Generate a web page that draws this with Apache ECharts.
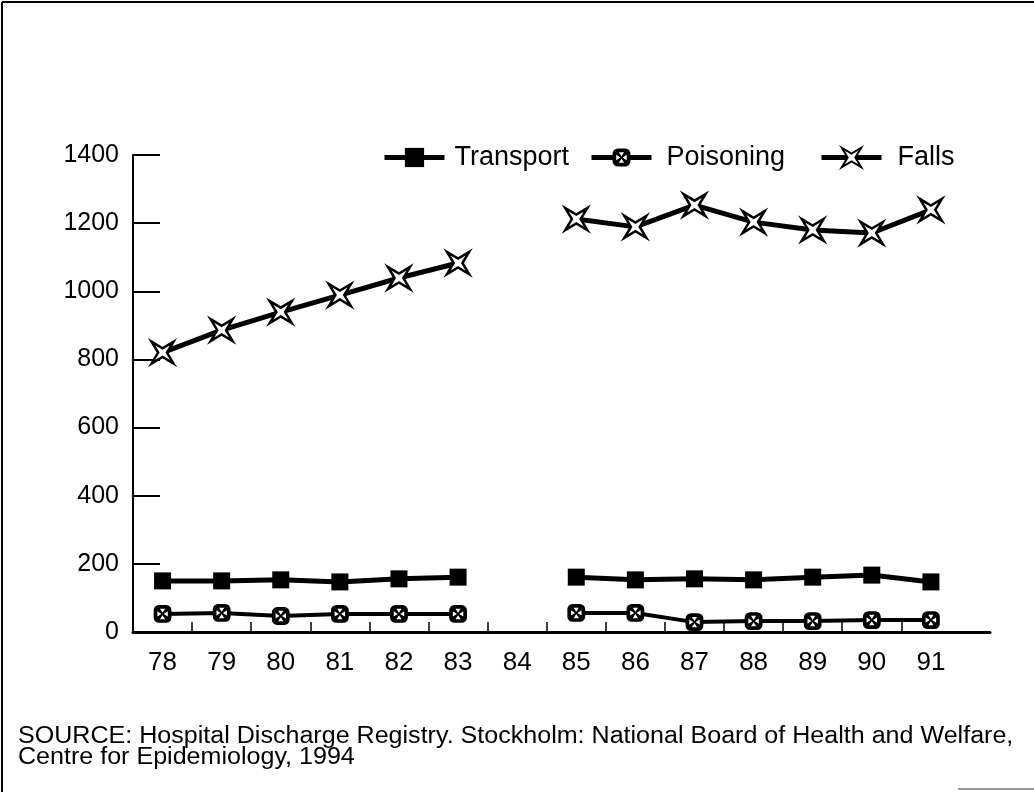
<!DOCTYPE html>
<html>
<head>
<meta charset="utf-8">
<script src="https://cdn.jsdelivr.net/npm/echarts@6/dist/echarts.min.js"></script>
<style>
html,body{margin:0;padding:0;background:#fff;}
#chart{width:1034px;height:792px;}
</style>
</head>
<body>
<div id="chart"></div>
<script>
const years = [78, 79, 80, 81, 82, 83, 84, 85, 86, 87, 88, 89, 90, 91];
const transport = [150, 150, 153, 147, 156, 161, null, 161, 153, 156, 153, 161, 167, 147];
const poisoning = [53, 56, 47, 53, 53, 53, null, 56, 56, 29, 32, 32, 35, 35];
const falls = [820, 886, 939, 989, 1039, 1083, null, 1212, 1189, 1253, 1203, 1180, 1171, 1239];
const yTicks = [0, 200, 400, 600, 800, 1000, 1200, 1400];
const xTickMarks = [78.5, 79.5, 80.5, 81.5, 82.5, 83.5, 84.5, 85.5, 86.5, 87.5, 88.5, 89.5, 90.5];
const seriesNames = ['Transport', 'Poisoning', 'Falls'];
const sourceLines = [
  'SOURCE: Hospital Discharge Registry. Stockholm: National Board of Health and Welfare,',
  'Centre for Epidemiology, 1994'
];

const FONT = '"Liberation Sans", Arial, Helvetica, sans-serif';
const toData = arr => years.map((y, i) => [y, arr[i] === null ? '-' : arr[i]]);

const poisonSvg = "<svg xmlns='http://www.w3.org/2000/svg' width='36' height='36' viewBox='0 0 16 16'>" +
  "<rect x='0.5' y='0.5' width='15' height='15' rx='4.5' fill='black'/>" +
  "<path d='M5.8,3.6 L10.2,3.6 L8,7 Z M12.4,5.8 L12.4,10.2 L9,8 Z M10.2,12.4 L5.8,12.4 L8,9 Z M3.6,10.2 L3.6,5.8 L7,8 Z' fill='white'/>" +
  "</svg>";
const poisonSymbol = 'image://data:image/svg+xml;charset=utf-8,' + encodeURIComponent(poisonSvg);
const starSymbol = 'path://M-10,-10 L0,-4 L10,-10 L4,0 L10,10 L0,4 L-10,10 L-4,0 Z';

const legendBase = {
  top: 139, itemHeight: 24, itemGap: 0,
  lineStyle: { width: 5 },
  textStyle: { fontFamily: FONT, fontSize: 27, color: '#000' }
};
const legendLefts = [377, 584, 814];
const legendTextGaps = [5, 10, 11];

const chart = echarts.init(document.getElementById('chart'));
chart.setOption({
  animation: false,
  backgroundColor: '#fff',
  textStyle: { fontFamily: FONT, color: '#000' },
  grid: { left: 133, right: 44, top: 155, bottom: 160, containLabel: false },
  legend: seriesNames.map((n, i) => Object.assign({}, legendBase, {
    left: legendLefts[i], itemWidth: 60, data: [n],
    textStyle: Object.assign({}, legendBase.textStyle, { padding: [0, 0, 0, legendTextGaps[i]] })
  })),
  xAxis: {
    type: 'value', min: 77.5, max: 92,
    axisLine: { show: true, onZero: false, lineStyle: { color: '#000', width: 3 } },
    axisTick: { show: true, inside: true, length: 10, customValues: xTickMarks, lineStyle: { color: '#000', width: 1.5 } },
    axisLabel: { customValues: years, fontSize: 26, color: '#000', margin: 18, fontFamily: FONT, formatter: v => String(v) },
    splitLine: { show: false }
  },
  yAxis: {
    type: 'value', min: 0, max: 1400, interval: 200,
    axisLine: { show: true, lineStyle: { color: '#000', width: 2 } },
    axisTick: { show: true, inside: true, length: 27, customValues: yTicks, lineStyle: { color: '#000', width: 2 } },
    axisLabel: { customValues: yTicks, fontSize: 25, color: '#000', margin: 14, fontFamily: FONT, formatter: v => String(v) },
    splitLine: { show: false }
  },
  graphic: [
    { type: 'line', shape: { x1: 2, y1: 2, x2: 1034, y2: 2 }, style: { stroke: '#000', lineWidth: 2 } },
    { type: 'line', shape: { x1: 2, y1: 2, x2: 2, y2: 792 }, style: { stroke: '#000', lineWidth: 2 } },
    { type: 'line', shape: { x1: 958, y1: 789, x2: 1034, y2: 789 }, style: { stroke: '#999', lineWidth: 2 } },
    { type: 'text', x: 18, y: 726, scaleX: 1.09, scaleY: 1, style: { text: sourceLines.join('\n'), fontFamily: FONT, fontSize: 23, lineHeight: 21, fill: '#000' } }
  ],
  series: [
    {
      name: seriesNames[0], type: 'line', data: toData(transport), connectNulls: false,
      symbol: 'rect', symbolSize: 17,
      lineStyle: { color: '#000', width: 5 },
      itemStyle: { color: '#000' }
    },
    {
      name: seriesNames[1], type: 'line', data: toData(poisoning), connectNulls: false,
      symbol: poisonSymbol, symbolSize: 19,
      lineStyle: { color: '#000', width: 4 },
      itemStyle: { color: '#000' }
    },
    {
      name: seriesNames[2], type: 'line', data: toData(falls), connectNulls: false,
      symbol: starSymbol, symbolSize: 22,
      lineStyle: { color: '#000', width: 5 },
      itemStyle: { color: '#fff', borderColor: '#000', borderWidth: 2.5 }
    }
  ]
});
</script>
</body>
</html>
